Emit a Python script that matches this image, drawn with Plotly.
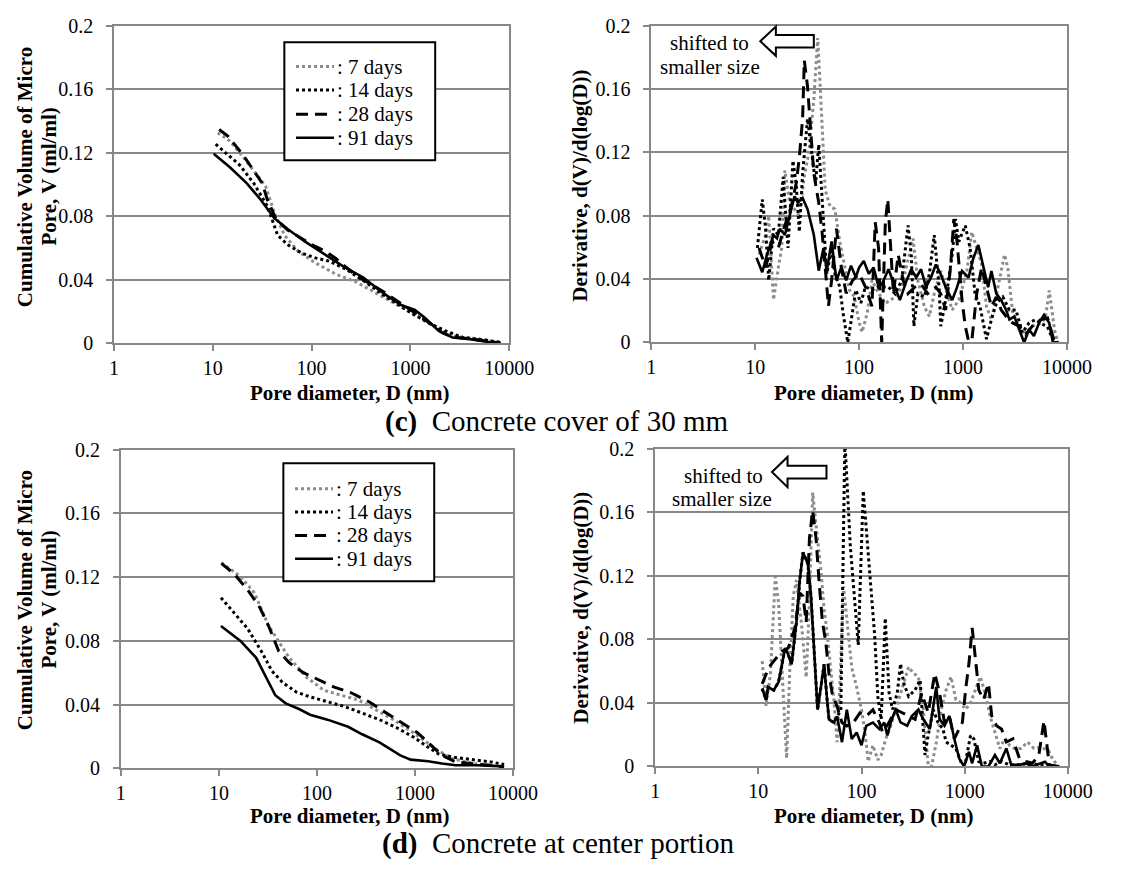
import plotly.graph_objects as go

W, H = 1124, 872
FONT = "Liberation Serif, Times New Roman, serif"
GRID = "#878787"
GRAY = "#8c8c8c"

# ---------------- data : cumulative volume, (c) concrete cover 30 mm ----------------
d7_c = [11.2, 14.8, 20.4, 25.9, 34.3, 41.8, 53.2, 73.2, 109, 176, 285, 460, 806, 1200, 1940, 2670, 5070, 8190]
v7_c = [0.1326, 0.1275, 0.1172, 0.109, 0.0988, 0.0825, 0.0681, 0.0579, 0.0507, 0.0436, 0.0385, 0.0313, 0.0231, 0.017, 0.0088, 0.0047, 0.0027, 0.0006]

d14_c = [10.7, 13.7, 18.8, 25.9, 35.6, 45.3, 57.6, 79, 109, 150, 224, 334, 540, 1024, 1530, 2280, 3390, 5940, 8190]
v14_c = [0.1254, 0.1193, 0.1121, 0.1009, 0.0865, 0.0681, 0.062, 0.0569, 0.0538, 0.0518, 0.0466, 0.0395, 0.0303, 0.019, 0.0129, 0.0078, 0.0037, 0.002, 0.0006]

d28_c = [11.6, 14.2, 20.4, 25.9, 31.6, 35.6, 43.5, 57.6, 79, 109, 139, 176, 215, 285, 540, 1000, 1410, 2100, 2670, 4300, 8190]
v28_c = [0.1346, 0.1305, 0.1183, 0.109, 0.1009, 0.0906, 0.0784, 0.0712, 0.0661, 0.061, 0.0579, 0.0534, 0.0487, 0.0426, 0.0323, 0.0211, 0.0149, 0.0068, 0.0041, 0.0027, 0.0002]

d91_c = [10.2, 14.8, 22, 30.4, 41.9, 57.6, 86, 128, 207, 334, 540, 806, 1110, 1410, 1940, 2670, 3990, 5940, 8190]
v91_c = [0.1193, 0.111, 0.1009, 0.0906, 0.0788, 0.0718, 0.064, 0.0569, 0.0487, 0.0415, 0.0313, 0.0241, 0.0211, 0.016, 0.0078, 0.0037, 0.0027, 0.001, 0.0]

# ---------------- data : cumulative volume, (d) center portion ----------------
d7_d = [10.6, 16.6, 23, 31.9, 40.8, 52.1, 78.3, 118, 177, 266, 400, 601, 903, 1250, 1730, 2400, 3920, 5890, 8100]
v7_d = [0.129, 0.1204, 0.1102, 0.0898, 0.0796, 0.0694, 0.0571, 0.049, 0.0459, 0.0429, 0.0367, 0.0306, 0.0235, 0.0173, 0.0112, 0.0061, 0.0031, 0.002, 0.001]

d14_d = [10.5, 14.1, 19.6, 27.1, 34.7, 44.3, 61.3, 85, 128, 192, 289, 434, 652, 980, 1360, 1730, 2400, 3920, 5890, 8100]
v14_d = [0.1071, 0.098, 0.0878, 0.0735, 0.0612, 0.0541, 0.048, 0.0449, 0.0418, 0.0388, 0.0347, 0.0306, 0.0255, 0.0194, 0.0133, 0.0092, 0.0071, 0.0057, 0.0041, 0.0024]

d28_d = [10.6, 14.1, 19.6, 26.1, 31.9, 40.8, 52.1, 72.1, 100, 150, 226, 340, 511, 767, 1060, 1470, 1880, 2600, 5000, 8100]
v28_d = [0.1286, 0.1224, 0.1122, 0.101, 0.0898, 0.0735, 0.0663, 0.0602, 0.0561, 0.051, 0.0473, 0.0418, 0.0347, 0.0276, 0.0224, 0.0143, 0.0082, 0.0041, 0.0024, 0.001]

d91_d = [10.5, 16.6, 24, 29.4, 37.6, 48, 66.5, 85, 128, 208, 289, 434, 601, 708, 903, 1360, 1880, 2600, 4250, 6930, 8100]
v91_d = [0.0894, 0.08, 0.0694, 0.0592, 0.0459, 0.0408, 0.0371, 0.0337, 0.0306, 0.0261, 0.0214, 0.0163, 0.0112, 0.0082, 0.0055, 0.0045, 0.0031, 0.002, 0.002, 0.0016, 0.0012]

# ---------------- data : derivative, (c) ----------------
dd7_c = [10.9, 12.6, 13.5, 15, 16.7, 18, 19.3, 21.5, 23.9, 26.6, 29.7, 33, 36.7, 40, 43, 47.2, 52.5, 58.5, 65.2, 72.5,
         80.7, 89.8, 100, 107, 120, 133, 154, 179, 222, 257, 296, 330, 368, 425, 474, 529, 611, 681, 787, 911,
         1091, 1216, 1356, 1511, 1684, 1878, 2170, 2510, 2700, 3007, 3477, 4020, 4650, 5500, 6200, 6770, 7600, 8200]
dv7_c = [0.0555, 0.0678, 0.08, 0.0269, 0.0473, 0.0596, 0.1086, 0.0882, 0.0841, 0.08, 0.1045, 0.1208, 0.1535, 0.1922, 0.1514, 0.0963, 0.0861, 0.0841, 0.0637, 0.0494,
         0.0331, 0.029, 0.0127, 0.0065, 0.0188, 0.0392, 0.031, 0.0246, 0.0287, 0.0349, 0.0513, 0.0656, 0.039, 0.0226, 0.0164, 0.0308, 0.0451, 0.0349, 0.0205, 0.0267,
         0.0451, 0.0697, 0.0595, 0.0492, 0.0226, 0.0144, 0.0349, 0.0554, 0.0472, 0.0185, 0.0103, 0.0062, 0.0103, 0.012, 0.015, 0.0328, 0.008, 0.0]

dd14_c = [10.5, 11.7, 12.6, 13.5, 15, 16.7, 18.6, 20.7, 23.1, 24.8, 26.6, 28.6, 31.9, 35.5, 38.1, 40.9, 44, 48.9, 54.4, 58.5,
          65.2, 70, 77.9, 86.7, 93.1, 104, 115, 133, 154, 192, 222, 257, 296, 318, 337, 368, 425, 474, 529, 589,
          611, 681, 787, 847, 911, 1052, 1172, 1306, 1458, 1684, 1878, 2093, 2420, 2798, 3230, 3735, 4320, 4990, 5600, 6500,
          7200, 8200]
dv14_c = [0.0596, 0.0902, 0.0718, 0.0392, 0.0718, 0.0678, 0.1045, 0.0596, 0.1147, 0.1004, 0.0698, 0.1065, 0.1412, 0.1167, 0.1004, 0.1249, 0.0882, 0.0433, 0.0596, 0.0433,
          0.0351, 0.0188, 0.0, 0.0188, 0.0331, 0.0249, 0.0351, 0.0331, 0.0351, 0.0349, 0.0308, 0.039, 0.0738, 0.0554, 0.0103, 0.0308, 0.0287, 0.0431, 0.0677, 0.0349,
          0.0103, 0.0267, 0.0554, 0.0779, 0.0636, 0.0738, 0.0595, 0.0308, 0.0226, 0.0021, 0.0144, 0.0246, 0.0287, 0.0205, 0.0205, 0.0062, 0.0123, 0.0144, 0.012, 0.01,
          0.003, 0.0]

dd28_c = [10.9, 12.6, 14.5, 16.7, 19.3, 22.3, 24.8, 26.6, 28.6, 29.7, 31.9, 34.2, 36.7, 40.9, 44, 47.2, 50.7, 54.4, 60.6, 67.5,
          75.1, 86.7, 100, 115, 133, 143, 154, 165, 179, 189, 199, 214, 238, 266, 296, 343, 395, 457, 548, 611,
          681, 759, 816, 877, 979, 1052, 1131, 1216, 1356, 1511, 1684, 1878, 2093, 2333, 2601, 3007, 3477, 4020, 4650, 5590,
          6530, 7620, 8200]
dv28_c = [0.0596, 0.0473, 0.0637, 0.0596, 0.0739, 0.0861, 0.1004, 0.1167, 0.1412, 0.178, 0.1616, 0.131, 0.1065, 0.0882, 0.0698, 0.0473, 0.0229, 0.0392, 0.0718, 0.0473,
          0.031, 0.0392, 0.0433, 0.0351, 0.0229, 0.0759, 0.0596, 0.0, 0.0759, 0.0903, 0.0656, 0.0308, 0.0554, 0.039, 0.0308, 0.0349, 0.0369, 0.0308, 0.0349, 0.0308,
          0.0205, 0.0472, 0.0779, 0.0636, 0.0267, 0.0103, 0.001, 0.001, 0.0308, 0.0472, 0.0349, 0.0226, 0.0287, 0.0205, 0.0164, 0.0123, 0.0103, 0.0051, 0.0103, 0.0144,
          0.0154, 0.0, 0.0]

dd91_c = [10.3, 11.7, 13, 14, 15, 16.2, 17.3, 19.3, 21.5, 23.9, 25.7, 28.6, 31.9, 36.7, 40.9, 45.5, 48.9, 54.4, 60.6, 67.5,
          75.1, 83.6, 93.1, 100, 111, 124, 138, 154, 166, 192, 222, 247, 286, 318, 355, 395, 441, 492, 548, 611,
          681, 787, 877, 979, 1131, 1260, 1405, 1566, 1746, 1878, 2093, 2333, 2601, 2798, 3119, 3477, 3876, 4320, 4810, 5400,
          6030, 6770, 7330, 8200]
dv91_c = [0.0535, 0.0443, 0.0555, 0.0616, 0.0678, 0.0657, 0.0718, 0.0678, 0.08, 0.0922, 0.0882, 0.0912, 0.0841, 0.0678, 0.0453, 0.0596, 0.0453, 0.0637, 0.0392, 0.0473,
          0.0392, 0.0484, 0.0412, 0.0473, 0.0514, 0.0433, 0.0473, 0.0351, 0.0369, 0.0462, 0.0349, 0.0267, 0.039, 0.0462, 0.041, 0.0462, 0.0349, 0.041, 0.0492, 0.0431,
          0.0349, 0.0267, 0.0349, 0.0451, 0.041, 0.0533, 0.0615, 0.0492, 0.0349, 0.0451, 0.0308, 0.0267, 0.0205, 0.0144, 0.0164, 0.0082, 0.0, 0.0082, 0.0041, 0.0123,
          0.0174, 0.0123, 0.0, 0.0]

# ---------------- data : derivative, (d) ----------------
dd7_d = [10.9, 11.9, 13.1, 14.6, 15.7, 16.9, 18.2, 18.8, 20.2, 21.8, 23.4, 26.1, 29.1, 31.3, 33.6, 36.2, 40.4, 43.4, 46.7, 50.1,
         54, 58, 62.4, 67, 72.1, 80.4, 89.7, 100, 108, 116, 129, 144, 155, 172, 192, 214, 248, 286, 320, 356,
         397, 443, 477, 532, 593, 661, 738, 822, 917, 1021, 1140, 1271, 1416, 1581, 1762, 1963, 2191, 2443, 2723, 3040,
         3514, 4063, 4700, 5500, 6500, 7200, 8200]
dv7_d = [0.0663, 0.0378, 0.0582, 0.1194, 0.103, 0.0622, 0.0296, 0.0051, 0.0622, 0.1071, 0.1173, 0.0908, 0.0561, 0.103, 0.1724, 0.1541, 0.1235, 0.099, 0.0827, 0.0622,
         0.0418, 0.0153, 0.0582, 0.1133, 0.0929, 0.0622, 0.05, 0.0357, 0.0214, 0.0031, 0.0133, 0.0041, 0.0072, 0.0174, 0.0256, 0.0359, 0.0503, 0.0626, 0.0585, 0.0564,
         0.0359, 0.001, 0.0, 0.0154, 0.0359, 0.0482, 0.0564, 0.042, 0.04, 0.0359, 0.04, 0.0482, 0.0564, 0.0462, 0.0318, 0.0215, 0.0113, 0.0174, 0.0133, 0.0113,
         0.0113, 0.0154, 0.0113, 0.012, 0.01, 0.004, 0.0]

dd14_d = [10.9, 11.9, 12.4, 14.1, 15.7, 18.2, 19.5, 21, 23.4, 25.2, 27.1, 30.2, 32.4, 34.9, 37.5, 40.4, 43.4, 46.7, 48.4, 54,
          58, 63, 69, 78, 93, 104, 120, 134, 144, 155, 170, 185, 200, 222, 239, 257, 286, 331, 370, 397,
          412, 443, 495, 551, 615, 661, 738, 822, 917, 1021, 1140, 1225, 1368, 1524, 1762, 1963, 2270, 2723, 3390, 4215,
          5500, 8200]
dv14_d = [0.049, 0.0418, 0.05, 0.048, 0.0531, 0.0745, 0.0704, 0.0643, 0.0908, 0.1173, 0.1347, 0.1276, 0.1071, 0.0663, 0.0357, 0.05, 0.0643, 0.0398, 0.0296, 0.0276,
          0.0316, 0.035, 0.205, 0.138, 0.0765, 0.1735, 0.1235, 0.0827, 0.0439, 0.0296, 0.0933, 0.0462, 0.0359, 0.0462, 0.0646, 0.0523, 0.0441, 0.0482, 0.0544, 0.0215,
          0.0072, 0.0195, 0.0359, 0.0277, 0.0236, 0.0154, 0.0133, 0.0113, 0.0031, 0.0031, 0.0195, 0.0174, 0.0031, 0.002, 0.0031, 0.001, 0.0031, 0.001, 0.001, 0.002,
          0.001, 0.0]

dd28_d = [10.9, 12.6, 14.1, 16.9, 19.5, 22.5, 25.2, 27.1, 29.1, 31.3, 33.6, 36.2, 38.9, 41.8, 45, 48.4, 52, 58, 64.7, 72.1,
          83.4, 96.4, 111, 129, 149, 160, 185, 214, 248, 286, 331, 383, 443, 513, 571, 637, 711, 793, 884, 950,
          1021, 1099, 1182, 1271, 1368, 1524, 1700, 1828, 2037, 2276, 2534, 2930, 3390, 3920, 4530, 5230, 5870, 6610, 8200]
dv28_d = [0.052, 0.0622, 0.0663, 0.0724, 0.0745, 0.0867, 0.1092, 0.1071, 0.0908, 0.1439, 0.1612, 0.1439, 0.1153, 0.0908, 0.0786, 0.0582, 0.0459, 0.0378, 0.0276, 0.0255,
          0.0276, 0.0337, 0.0316, 0.0357, 0.0276, 0.0215, 0.0277, 0.0359, 0.0338, 0.0318, 0.0297, 0.0462, 0.0338, 0.0585, 0.0462, 0.0277, 0.0318, 0.0174, 0.0236, 0.0277,
          0.0482, 0.0646, 0.0872, 0.0687, 0.0482, 0.042, 0.0523, 0.0318, 0.0256, 0.0236, 0.0154, 0.0174, 0.0051, 0.0031, 0.002, 0.007, 0.0287, 0.001, 0.0]

dd91_d = [10.9, 11.9, 12.4, 14.1, 15.7, 18.2, 19.5, 21, 23.4, 25.2, 27.1, 30.2, 32.4, 34.9, 37.5, 40.4, 43.4, 46.7, 48.4, 54,
          58, 64.7, 72.1, 80.4, 89.7, 100, 111, 129, 149, 166, 178, 192, 214, 239, 277, 308, 356, 397, 459, 530,
          571, 637, 711, 793, 884, 986, 1099, 1182, 1318, 1469, 1700, 1963, 2191, 2534, 2826, 3390, 3920, 4530, 5500, 6000,
          6600, 8200]
dv91_d = [0.049, 0.0418, 0.05, 0.048, 0.0531, 0.0745, 0.0704, 0.0643, 0.0908, 0.1173, 0.1347, 0.1276, 0.1071, 0.0663, 0.0357, 0.05, 0.0643, 0.0398, 0.0296, 0.0276,
          0.0316, 0.0153, 0.0357, 0.0173, 0.0214, 0.0133, 0.0255, 0.0276, 0.0235, 0.0276, 0.0195, 0.0277, 0.0359, 0.0277, 0.0256, 0.0318, 0.0359, 0.0297, 0.0236, 0.05,
          0.0297, 0.0256, 0.0318, 0.0174, 0.0051, 0.0, 0.0092, 0.002, 0.0133, 0.0, 0.0, 0.0072, 0.002, 0.0113, 0.001, 0.001, 0.002, 0.0, 0.002, 0.003,
          0.0, 0.0]

series_names = [": 7 days", ": 14 days", ": 28 days", ": 91 days"]
x_tickvals = [1, 10, 100, 1000, 10000]
x_ticktext = ["1", "10", "100", "1000", "10000"]
y_tickvals = [0, 0.04, 0.08, 0.12, 0.16, 0.2]
y_ticktext = ["0", "0.04", "0.08", "0.12", "0.16", "0.2"]

styles = [
    dict(color=GRAY, width=3, dash="3px,3px"),
    dict(color="black", width=3, dash="3px,3px"),
    dict(color="black", width=3, dash="12px,7px"),
    dict(color="black", width=2.6, dash="solid"),
]

# panel placement in pixels: (x-left, x-right), (y-top, y-bottom)
panels = [
    ("x", "y", (112, 518), (15, 341), [(d7_c, v7_c), (d14_c, v14_c), (d28_c, v28_c), (d91_c, v91_c)]),
    ("x2", "y2", (664, 1091), (15, 340), [(dd7_c, dv7_c), (dd14_c, dv14_c), (dd28_c, dv28_c), (dd91_c, dv91_c)]),
    ("x3", "y3", (119, 522), (450, 777), [(d7_d, v7_d), (d14_d, v14_d), (d28_d, v28_d), (d91_d, v91_d)]),
    ("x4", "y4", (668, 1092), (449, 775), [(dd7_d, dv7_d), (dd14_d, dv14_d), (dd28_d, dv28_d), (dd91_d, dv91_d)]),
]


def px(x):
    return x / W


def py(y):
    return 1 - y / H


fig = go.Figure()
layout = {}
tickfont = dict(family=FONT, size=20, color="black")
for xa, ya, xr, yr, data in panels:
    for (xs, ys), name, st in zip(data, series_names, styles):
        fig.add_trace(go.Scatter(x=xs, y=ys, mode="lines", name=name, line=st, xaxis=xa, yaxis=ya,
                                 showlegend=False, hoverinfo="skip"))
    xkey = "xaxis" + xa[1:]
    ykey = "yaxis" + ya[1:]
    layout[xkey] = dict(type="log", range=[0, 4], domain=[px(xr[0]), px(xr[1])], anchor=ya,
                        tickvals=x_tickvals, ticktext=x_ticktext, showgrid=False,
                        showline=True, linecolor=GRID, linewidth=1.6, mirror=True,
                        ticks="outside", ticklen=6, tickcolor=GRID, tickwidth=1.6,
                        tickfont=tickfont, zeroline=False, fixedrange=True, ticklabelstandoff=0)
    layout[ykey] = dict(range=[0, 0.2], domain=[py(yr[1]), py(yr[0])], anchor=xa,
                        tickvals=y_tickvals, ticktext=y_ticktext, showgrid=True,
                        gridcolor=GRID, gridwidth=1.6, showline=True, linecolor=GRID,
                        linewidth=1.6, mirror=True, ticks="outside", ticklen=6,
                        tickcolor=GRID, tickwidth=1.6, tickfont=tickfont, zeroline=False,
                        fixedrange=True, ticklabelstandoff=9)

annotations = []
shapes = []
titlefont = dict(family=FONT, size=21, color="black")


def ann(text, x, y, font, angle=0, xanchor="center"):
    annotations.append(dict(text=text, x=px(x), y=py(y), xref="paper", yref="paper",
                            showarrow=False, xanchor=xanchor, yanchor="middle",
                            font=font, textangle=angle))


# y-axis titles
for yc in (170, 604):
    ann("<b>Cumulative Volume of Micro</b>", 20, yc, titlefont, -90)
    ann("<b>Pore, V (ml/ml)</b>", 45, yc, titlefont, -90)
ann("<b>Derivative, d(V)/d(log(D))</b>", 591, 179, titlefont, -90)
ann("<b>Derivative, d(V)/d(log(D))</b>", 591, 612, titlefont, -90)
# x-axis titles
for xc, yc in [(354, 392), (892, 392), (354, 826), (892, 826)]:
    ann("<b>Pore diameter, D (nm)</b>", xc, yc, titlefont)
# captions
capfont = dict(family=FONT, size=29, color="black")
ann("<b>(c)</b>\u00a0\u00a0Concrete cover of 30 mm", 567, 421, capfont)
ann("<b>(d)</b>\u00a0\u00a0Concrete at center portion", 568, 854, capfont)
# "shifted" notes
notefont = dict(family=FONT, size=21, color="black")
ann("shifted to", 724, 33, notefont)
ann("smaller size", 724, 57, notefont)
ann("shifted to", 738, 477, notefont)
ann("smaller size", 737, 501, notefont)


def arrow_path(tip_x, tip_y, base_x, tail_x, body_h, head_h):
    pts = [(tip_x, tip_y), (base_x, tip_y - head_h / 2), (base_x, tip_y - body_h / 2),
           (tail_x, tip_y - body_h / 2), (tail_x, tip_y + body_h / 2), (base_x, tip_y + body_h / 2),
           (base_x, tip_y + head_h / 2)]
    return "M " + " L ".join(f"{px(a):.5f},{py(b):.5f}" for a, b in pts) + " Z"


shapes.append(dict(type="path", xref="paper", yref="paper", path=arrow_path(776, 31, 792, 831, 13, 30),
                   fillcolor="white", line=dict(color="black", width=2)))
shapes.append(dict(type="path", xref="paper", yref="paper", path=arrow_path(788, 473, 804, 844, 13, 31),
                   fillcolor="white", line=dict(color="black", width=2)))

# legends (box, line samples, labels)
legfont = dict(family=FONT, size=21, color="black")
for (bx0, by0, bx1, by1), rows in [((287, 32, 442, 153), (57, 81, 106, 130)),
                                   ((286, 464, 441, 585), (490, 514, 538, 562))]:
    shapes.append(dict(type="rect", xref="paper", yref="paper", x0=px(bx0), x1=px(bx1), y0=py(by1), y1=py(by0),
                       fillcolor="white", line=dict(color="black", width=2)))
    for ry, name, st in zip(rows, series_names, styles):
        shapes.append(dict(type="line", xref="paper", yref="paper", x0=px(bx0 + 12), x1=px(bx0 + 51),
                           y0=py(ry), y1=py(ry), line=st))
        ann(name, bx0 + 52, ry, legfont, xanchor="left")

fig.update_layout(width=W, height=H, margin=dict(l=0, r=0, t=0, b=0), paper_bgcolor="white",
                  plot_bgcolor="white", showlegend=False, annotations=annotations, shapes=shapes, **layout)
fig.write_html("out.html")
